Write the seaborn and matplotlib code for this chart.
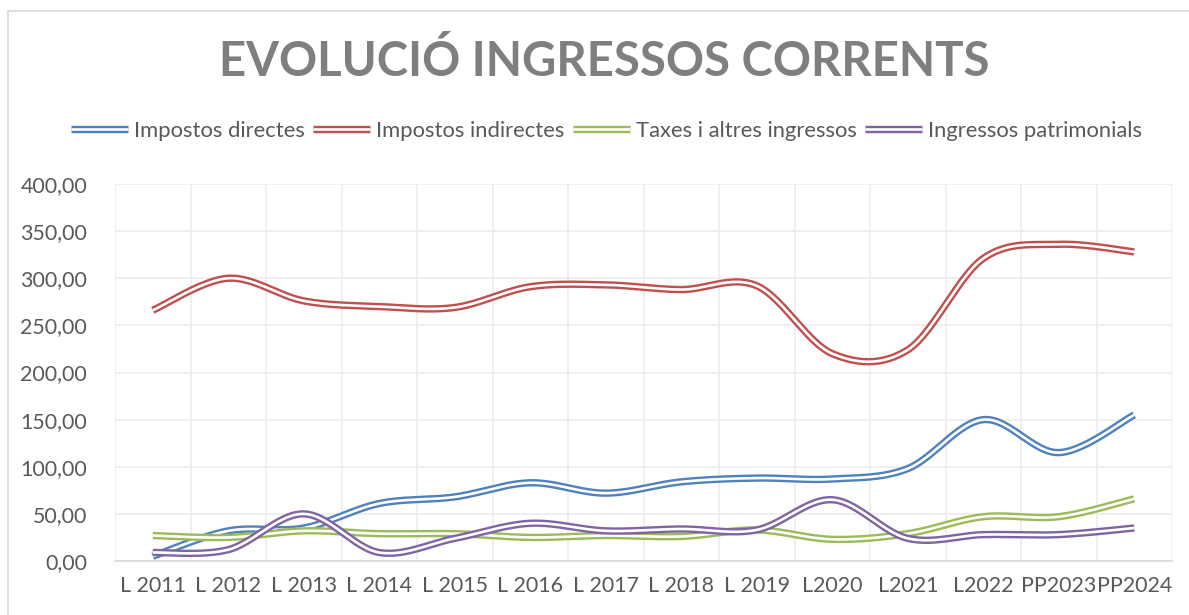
import numpy as np
import pandas as pd
import seaborn as sns
import matplotlib.pyplot as plt
import matplotlib.patheffects as pe
from matplotlib.lines import Line2D
from matplotlib.patches import Rectangle
from matplotlib.ticker import FuncFormatter, MultipleLocator

# data
years = ['L 2011', 'L 2012', 'L 2013', 'L 2014', 'L 2015', 'L 2016', 'L 2017',
         'L 2018', 'L 2019', 'L2020', 'L2021', 'L2022', 'PP2023', 'PP2024']
directes = [5, 32, 35, 61, 68, 83, 72, 84, 88, 87, 98, 150, 115, 155]
indirectes = [266, 300, 276, 270, 269, 291, 293, 288, 292, 220, 224, 321, 336, 328]
taxes = [27, 25, 32, 29, 29, 25, 27, 26, 33, 23, 29, 47, 47, 66]
patrimonials = [9, 12, 50, 9, 24, 40, 32, 34, 33, 65, 24, 28, 28, 35]

series_names = ['Impostos directes', 'Impostos indirectes',
                'Taxes i altres ingressos', 'Ingressos patrimonials']
series_vals = [directes, indirectes, taxes, patrimonials]
colors = ['#4F81BD', '#C0504D', '#9BBB59', '#8064A2']


def smooth(y, n=30):
    # Excel-like smoothed line: cubic bezier with catmull-rom control points
    y = np.asarray(y, dtype=float)
    x = np.arange(len(y), dtype=float)
    pts = np.column_stack([x, y])
    out = []
    t = np.linspace(0, 1, n)[:, None]
    for i in range(len(pts) - 1):
        p0 = pts[max(i - 1, 0)]
        p1 = pts[i]
        p2 = pts[i + 1]
        p3 = pts[min(i + 2, len(pts) - 1)]
        c1 = p1 + (p2 - p0) / 6
        c2 = p2 - (p3 - p1) / 6
        seg = ((1 - t) ** 3) * p1 + 3 * ((1 - t) ** 2) * t * c1 + 3 * (1 - t) * t ** 2 * c2 + t ** 3 * p2
        out.append(seg if i == 0 else seg[1:])
    return np.vstack(out)


sns.set_theme(style='white')
plt.rcParams['font.family'] = ['Lato', 'DejaVu Sans']

fig = plt.figure(figsize=(11.89, 6.15), dpi=100)
ax = fig.add_axes([115 / 1189, 54 / 615, (1172 - 115) / 1189, (561 - 184) / 615])

outer_lw = 5.3
inner_lw = 1.9
for name, vals, col in zip(series_names, series_vals, colors):
    curve = smooth(vals)
    df = pd.DataFrame({'x': curve[:, 0], 'y': curve[:, 1]})
    sns.lineplot(data=df, x='x', y='y', ax=ax, sort=False, estimator=None,
                 color='white', linewidth=inner_lw, solid_capstyle='butt',
                 path_effects=[pe.Stroke(linewidth=outer_lw, foreground=col, capstyle='butt'),
                               pe.Normal()])

ax.set_xlim(-0.5, len(years) - 0.5)
ax.set_ylim(0, 400)
ax.set_xticks(range(len(years)))
ax.set_xticklabels(years)
ax.set_xticks(np.arange(-0.5, len(years), 1), minor=True)
ax.yaxis.set_major_locator(MultipleLocator(50))
ax.yaxis.set_major_formatter(FuncFormatter(lambda v, p: f'{v:.2f}'.replace('.', ',')))
ax.set_xlabel('')
ax.set_ylabel('')

ax.grid(False)
ax.grid(which='major', axis='y', color='#ececec', linewidth=1.2)
ax.grid(which='minor', axis='x', color='#ececec', linewidth=1.2)
for s in ['top', 'right', 'left']:
    ax.spines[s].set_visible(False)
ax.spines['bottom'].set_color('#d9d9d9')
ax.spines['bottom'].set_linewidth(1.2)
ax.tick_params(axis='both', which='both', length=0, labelsize=15.4, labelcolor='#595959')
ax.tick_params(axis='x', pad=11)
ax.tick_params(axis='y', pad=20)

# chart frame
fig.patches.append(Rectangle((8 / 1189, -0.1), 1.2, 1.1 - 11 / 615,
                             transform=fig.transFigure, fill=False,
                             edgecolor='#d9d9d9', linewidth=1.2))

fig.text(0.508, 1 - 61 / 615, 'EVOLUCIÓ INGRESSOS CORRENTS', ha='center', va='center',
         fontsize=34, fontweight='bold', color='#7f7f7f')

handles = [Line2D([0], [0], color='white', linewidth=inner_lw, solid_capstyle='butt',
                  path_effects=[pe.Stroke(linewidth=outer_lw, foreground=c, capstyle='butt'),
                                pe.Normal()]) for c in colors]
fig.legend(handles, series_names, loc='center', bbox_to_anchor=(0.51, 1 - 131 / 615),
           ncol=4, frameon=False, fontsize=15.8, labelcolor='#595959',
           handlelength=2.6, handletextpad=0.25, columnspacing=0.4)

fig.savefig('out.png', dpi=100)
